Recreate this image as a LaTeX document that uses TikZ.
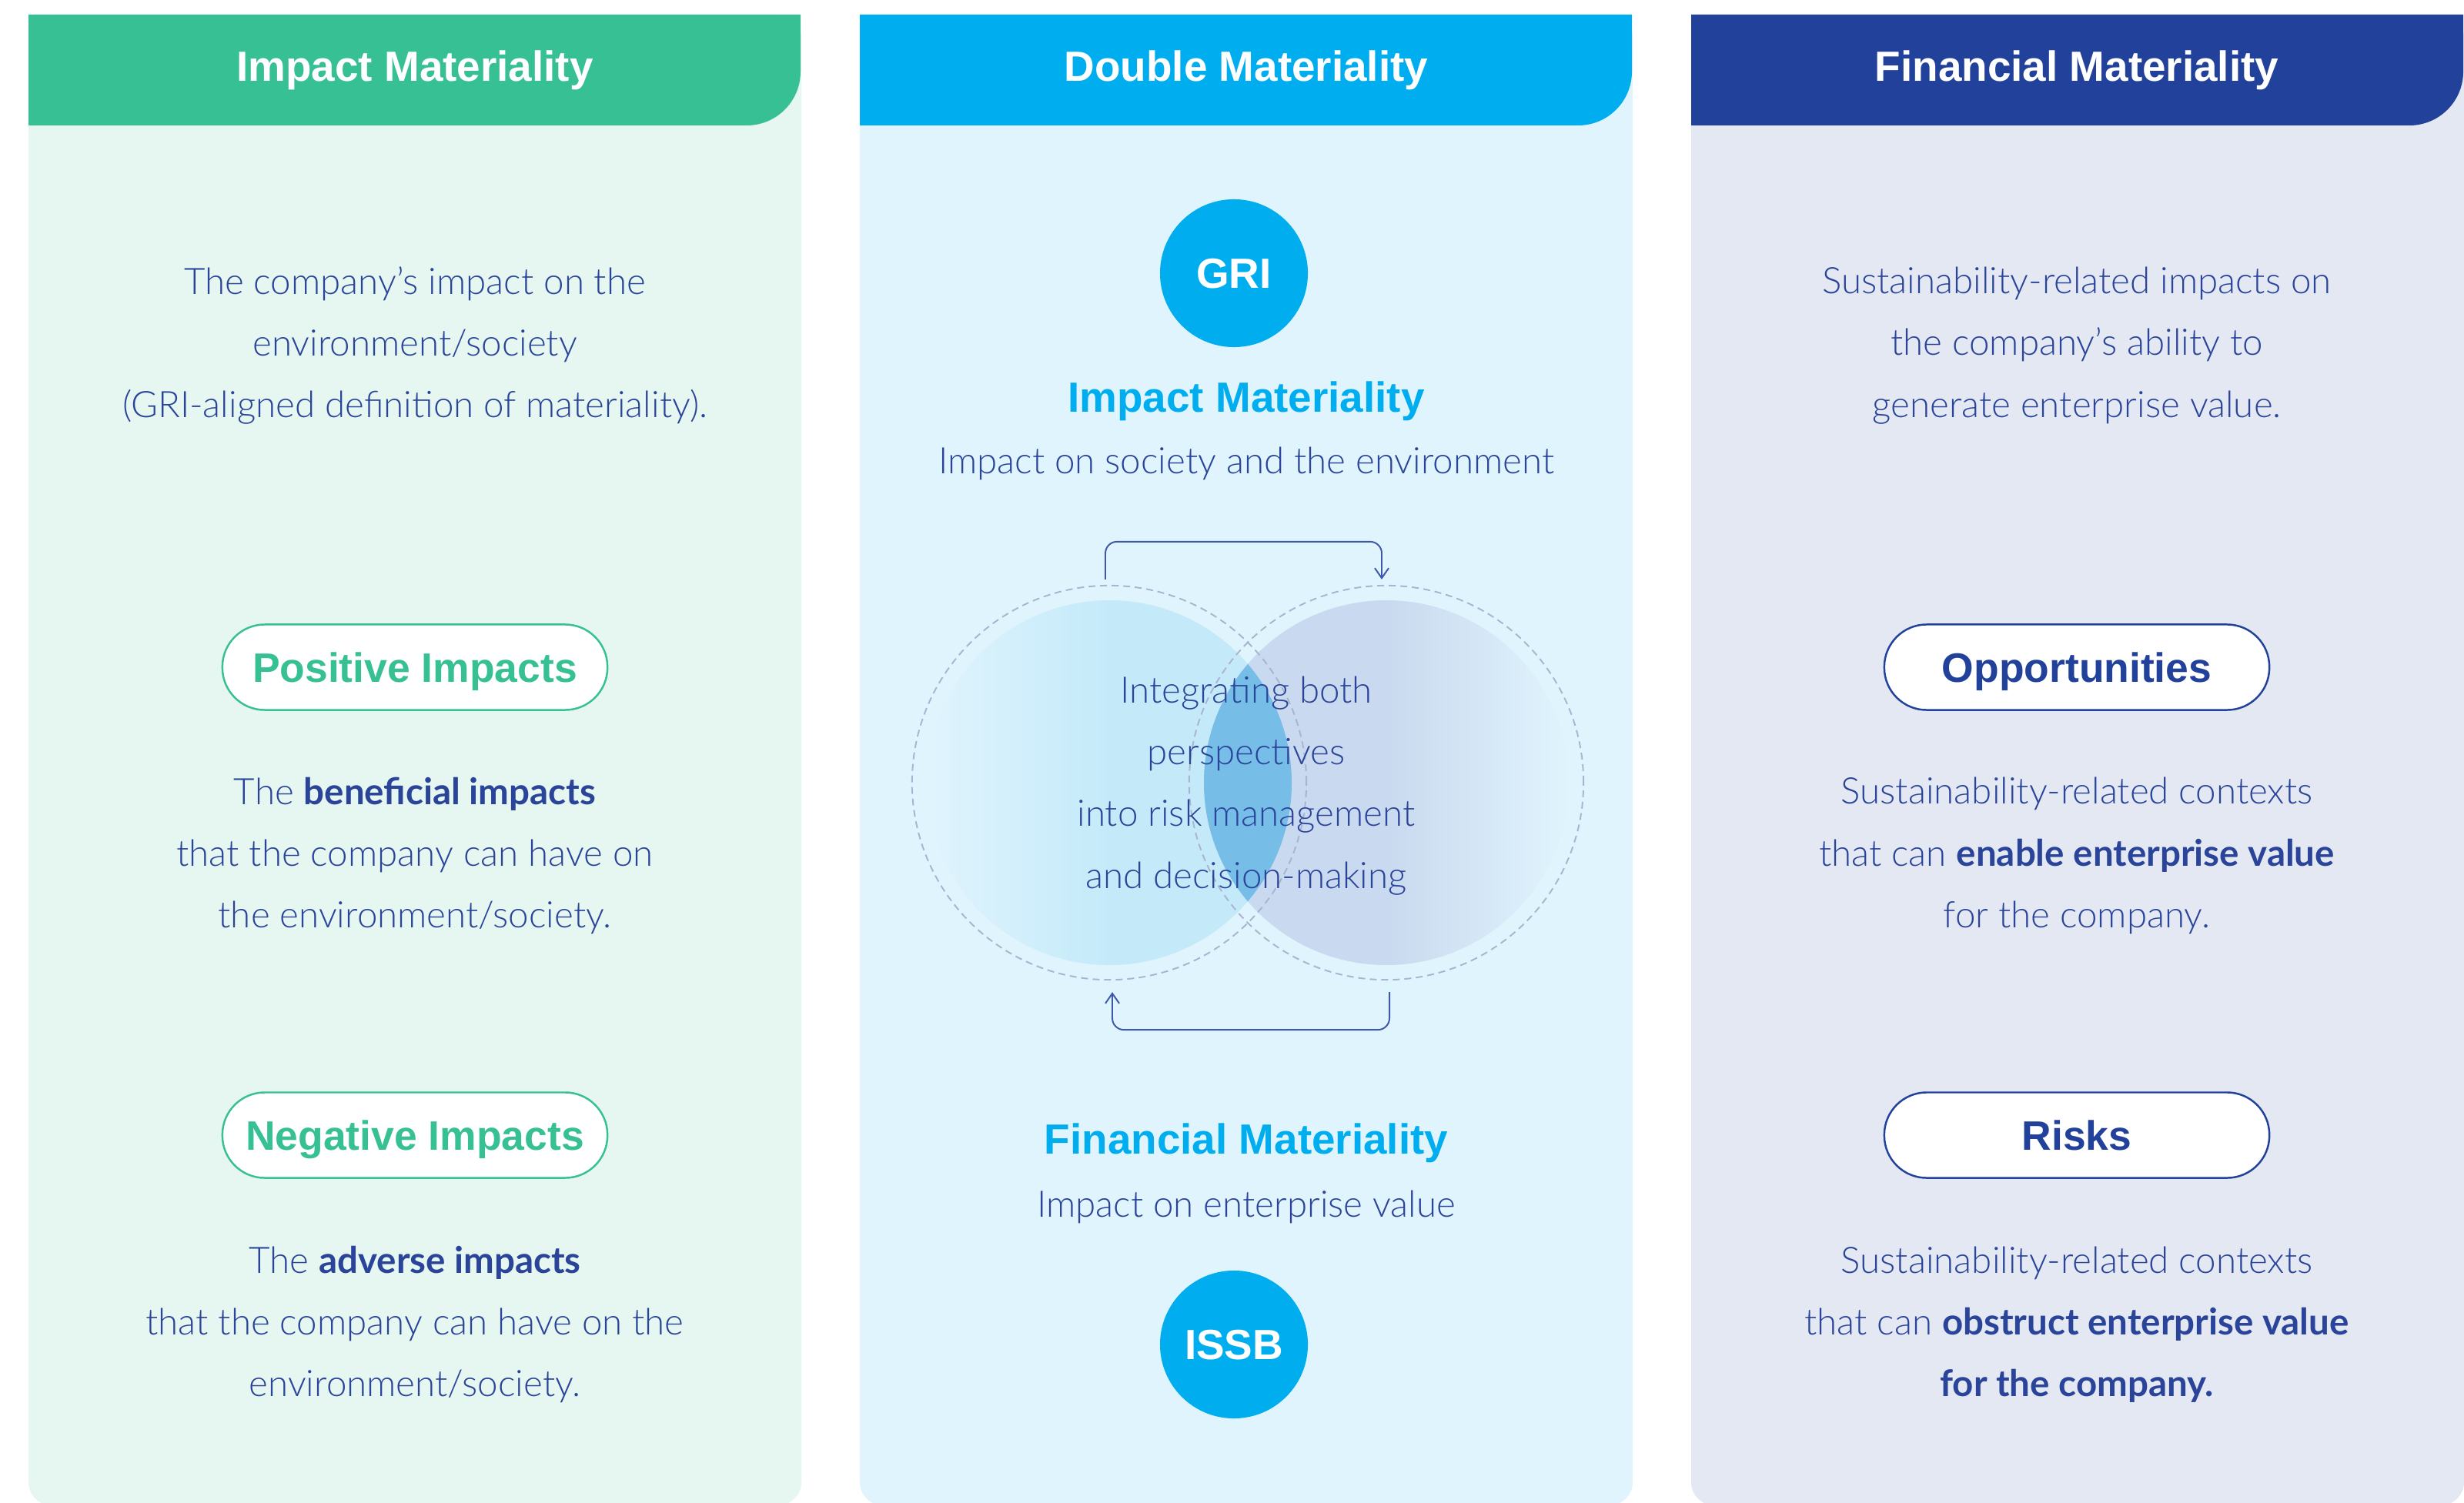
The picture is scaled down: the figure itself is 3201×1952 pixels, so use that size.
\documentclass[tikz,border=0pt]{standalone}
\usepackage{fontspec}
\IfFontExistsTF{Lato Light}{\setmainfont{Lato Light}[BoldFont={Lato Bold}]}{\setmainfont{Lato}}
\newfontfamily\headfont{Liberation Sans}
\usetikzlibrary{arrows.meta}

\definecolor{impgreen}{HTML}{38C095}
\definecolor{impbg}{HTML}{E6F6F1}
\definecolor{dblcyan}{HTML}{00AEEF}
\definecolor{dblbg}{HTML}{E0F4FD}
\definecolor{finnavy}{HTML}{22419A}
\definecolor{finbg}{HTML}{E3E8F3}
\definecolor{txtnavy}{HTML}{2A4499}
\definecolor{cyanfill}{HTML}{C4EAF9}
\definecolor{navyfill}{HTML}{C9D9EF}
\definecolor{lensblue}{HTML}{76BDE8}
\definecolor{ringgrey}{HTML}{A9B5D0}
\definecolor{loopnavy}{HTML}{3D58A8}

\newcommand\headsize{\fontsize{15.6}{18}\selectfont}
\newcommand\pillsize{\fontsize{15.2}{18}\selectfont}
\newcommand\bodysize{\fontsize{13.5}{22.8}\selectfont}

\begin{document}
\begin{tikzpicture}[
    x=0.01cm, y=-0.01cm,
    thick,
    head node/.style={font=\headfont\bfseries\headsize,text=white,text depth=0pt},
    pill node/.style={draw,fill=white,line width=0.7pt,rounded corners=0.55cm,
      minimum width=5cm,minimum height=1.11cm,font=\headfont\bfseries\pillsize,text depth=0pt},
    title node/.style={font=\headfont\bfseries\headsize,text=dblcyan,text depth=0pt},
    body node/.style={font=\bodysize,text=txtnavy,align=center},
    badge node/.style={circle,fill=dblcyan,minimum size=1.92cm,inner sep=0pt,
      text=white,text depth=0pt,font=\headfont\bfseries\headsize},
    ring node/.style={circle,draw=ringgrey,dash pattern=on 0.09cm off 0.06cm,
      line width=0.55pt,minimum size=5.12cm,inner sep=0pt},
    loop arrow/.style={draw=loopnavy,line width=0.55pt,rounded corners=0.15cm,
      -{Straight Barb[length=1.3mm,width=1.8mm]}}]

  \useasboundingbox (0,0) rectangle (3201,1952);

  % columns and their headers
  \foreach \px/\bg/\hd in {37/impbg/impgreen,1117/dblbg/dblcyan,2197/finbg/finnavy}{
    \fill[\bg,rounded corners=0.3cm] (\px,19) rectangle ++(1004,1937);
    \fill[\hd] (\px,19) -- ++(1003,0) -- ++(0,74)
      arc[start angle=0,end angle=90,radius=70] -- (\px,163) -- cycle;
  }

  \node[head node] (impact head) at (539,86) {Impact Materiality};
  \node[head node] (double head) at (1619,86) {Double Materiality};
  \node[head node] (financial head) at (2698,86) {Financial Materiality};

  % impact materiality
  \node[body node] (impact def) at (539,449)
    {The company’s impact on the\\environment/society\\(GRI-aligned definition of materiality).};
  \node[pill node,draw=impgreen,text=impgreen] (positive pill) at (539,867) {Positive Impacts};
  \node[body node] (positive text) at (539,1112)
    {The \textbf{beneficial impacts}\\that the company can have on\\the environment/society.};
  \node[pill node,draw=impgreen,text=impgreen] (negative pill) at (539,1475) {Negative Impacts};
  \node[body node] (negative text) at (539,1721)
    {The \textbf{adverse impacts}\\that the company can have on the\\environment/society.};

  % double materiality
  \node[badge node] (gri) at (1603,355) {GRI};
  \node[title node] (gri title) at (1619,516) {Impact Materiality};
  \node[body node] (gri sub) [below of=gri title,node distance=0.86cm]
    {Impact on society and the environment};

  \shade[left color=dblbg,right color=cyanfill,middle color=cyanfill] (1441,1017) circle[radius=237];
  \shade[left color=navyfill,right color=dblbg,middle color=navyfill] (1801,1017) circle[radius=237];
  \begin{scope}
    \clip (1441,1017) circle[radius=237];
    \fill[lensblue] (1801,1017) circle[radius=237];
  \end{scope}
  \node[ring node] (impact ring) at (1441,1017) {};
  \node[ring node] (financial ring) at (1801,1017) {};
  \node[body node] (integrate) at (1619,1021)
    {Integrating both\\perspectives\\into risk management\\and decision-making};

  \draw[loop arrow] ([yshift=0.07cm,xshift=-0.05cm]impact ring.north) -- ++(0,-49)
    -| ([yshift=0.07cm,xshift=-0.06cm]financial ring.north);
  \draw[loop arrow] ([yshift=-0.15cm,xshift=0.04cm]financial ring.south) -- ++(0,49)
    -| ([yshift=-0.15cm,xshift=0.04cm]impact ring.south);

  \node[title node] (issb title) at (1619,1480) {Financial Materiality};
  \node[body node] (issb sub) [below of=issb title,node distance=0.88cm]
    {Impact on enterprise value};
  \node[badge node] (issb) at (1603,1747) {ISSB};

  % financial materiality
  \node[body node] (financial def) at (2698,449)
    {Sustainability-related impacts on\\the company’s ability to\\generate enterprise value.};
  \node[pill node,draw=finnavy,text=finnavy] (opportunity pill) at (2698,867) {Opportunities};
  \node[body node] (opportunity text) at (2698,1112)
    {Sustainability-related contexts\\that can \textbf{enable enterprise value}\\for the company.};
  \node[pill node,draw=finnavy,text=finnavy] (risk pill) at (2698,1475) {Risks};
  \node[body node] (risk text) at (2698,1721)
    {Sustainability-related contexts\\that can \textbf{obstruct enterprise value}\\\textbf{for the company.}};
\end{tikzpicture}
\end{document}
